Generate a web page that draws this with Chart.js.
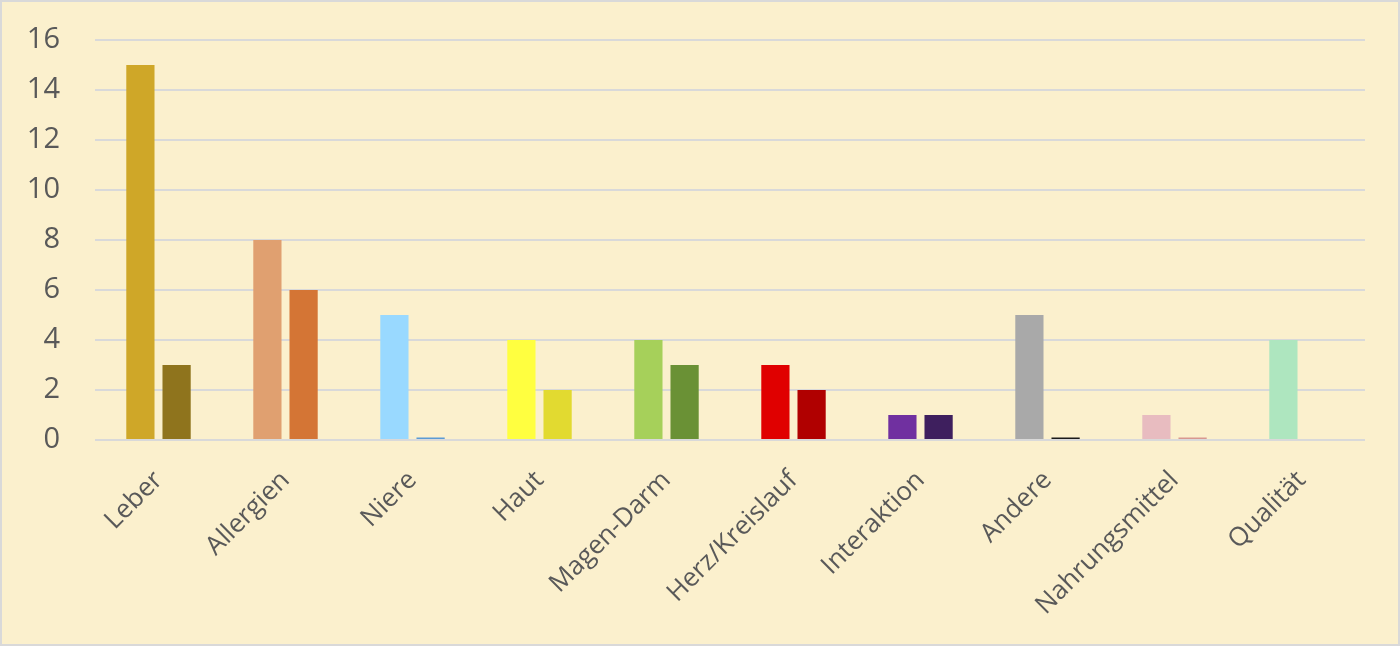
<!DOCTYPE html>
<html>
<head>
<meta charset="utf-8">
<script src="https://cdn.jsdelivr.net/npm/chart.js@4/dist/chart.umd.min.js"></script>
<style>
  html, body { margin: 0; padding: 0; background: #ffffff; }
  #wrap {
    width: 1400px;
    height: 646px;
    box-sizing: border-box;
    border: 2px solid #d9d9d9;
    background: #fbf0cd;
  }
</style>
</head>
<body>
<div id="wrap"><canvas id="chart" width="1396" height="642"></canvas></div>
<script>
const categories = ["Leber", "Allergien", "Niere", "Haut", "Magen-Darm", "Herz/Kreislauf", "Interaktion", "Andere", "Nahrungsmittel", "Qualität"];
const seriesA = [15, 8, 5, 4, 4, 3, 1, 5, 1, 4];
const seriesB = [3, 6, 0.1, 2, 3, 2, 1, 0.1, 0.1, null];
const colorsA = ["#cfa728", "#e0a070", "#99d9ff", "#ffff40", "#a6d05a", "#e00000", "#7030a0", "#a9a9a9", "#e8bcc0", "#aee6bf"];
const colorsB = ["#8f741d", "#d47535", "#5b9bd5", "#e2da30", "#6a9135", "#b00000", "#3e1f5e", "#1a1a1a", "#d89890", "#aee6bf"];

const context = document.querySelector("#chart").getContext("2d");

new Chart(context, {
  type: "bar",
  data: {
    labels: categories,
    datasets: [
      {
        label: "A",
        data: seriesA,
        backgroundColor: colorsA,
        categoryPercentage: 0.57,
        barPercentage: 0.78,
      },
      {
        label: "B",
        data: seriesB,
        backgroundColor: colorsB,
        categoryPercentage: 0.57,
        barPercentage: 0.78,
      },
    ],
  },
  options: {
    responsive: false,
    animation: false,
    layout: {
      padding: { left: 0, right: 33, top: 38, bottom: 0 },
    },
    plugins: {
      legend: { display: false },
      tooltip: { enabled: false },
    },
    scales: {
      x: {
        grid: { display: false, drawTicks: false },
        border: { display: false },
        ticks: {
          color: "#595959",
          font: { family: "Open Sans", size: 26 },
          minRotation: 45,
          maxRotation: 45,
          padding: 25,
        },
        afterFit: (scale) => {
          scale.paddingLeft = 0;
          scale.paddingRight = 0;
          scale.height = 204;
        },
      },
      y: {
        min: 0,
        max: 16,
        border: { display: false },
        grid: { color: "#d9d9d9", lineWidth: 2, drawTicks: false },
        ticks: {
          stepSize: 2,
          color: "#595959",
          font: { family: "Open Sans", size: 29 },
          padding: 35,
        },
        afterFit: (scale) => {
          scale.paddingTop = 0;
          scale.paddingBottom = 0;
          scale.width = 93;
        },
      },
    },
  },
});
</script>
</body>
</html>
